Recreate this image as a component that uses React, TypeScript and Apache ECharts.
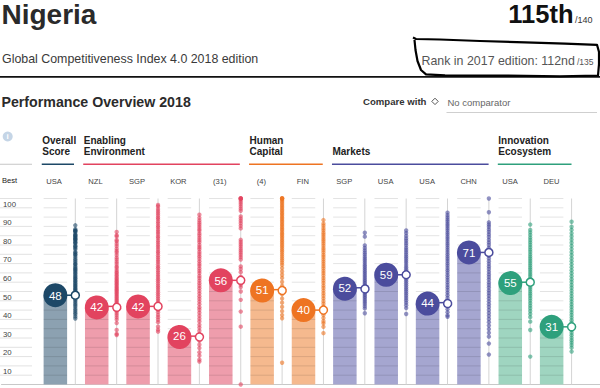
import React, { useEffect, useRef } from "react";
import * as echarts from "echarts";

// ---------------- data ----------------
const pillarNames = [
  "Overall Score", "Institutions", "Infrastructure", "ICT adoption", "Macroeconomic stability",
  "Health", "Skills", "Product market", "Labour market", "Financial system",
  "Market size", "Business dynamism", "Innovation capability",
];
const bestLabels = ["USA", "NZL", "SGP", "KOR", "(31)", "(4)", "FIN", "SGP", "USA", "USA", "CHN", "USA", "DEU"];
const nigeriaScores = [48, 42, 42, 26, 56, 51, 40, 52, 59, 44, 71, 55, 31];
const pillarGroup = [0, 1, 1, 1, 1, 2, 2, 3, 3, 3, 3, 4, 4];
const groupNames = ["Overall\nScore", "Enabling\nEnvironment", "Human\nCapital", "Markets", "Innovation\nEcosystem"];
const groupColors = ["#1d4867", "#e2435f", "#ee7422", "#4b4c9d", "#2ea07c"];
const groupBarColors = ["#8ca1b1", "#ee9dac", "#f5b98e", "#a5a6d0", "#9fd5c0"];
const gridValues = [5, 10, 15, 20, 25, 30, 35, 40, 45, 50, 55, 60, 65, 70, 75, 80, 85, 90, 95, 100];

const distOverall = [85.6, 83.5, 82.8, 82.6, 82.4, 81.7, 80.6, 80.3, 79.9, 79.3, 78.8, 78.2, 78.0, 77.5, 76.6, 76.3, 75.7, 74.5, 74.2, 73.4, 72.6, 71.2, 70.8, 70.0, 69.6, 68.6, 67.5, 66.7, 65.8, 64.9, 64.6, 63.6, 62.8, 62.1, 61.6, 60.9, 60.1, 59.5, 58.6, 58.0, 57.2, 56.8, 55.9, 55.4, 54.6, 54.0, 53.3, 52.8, 52.0, 51.4, 50.9, 50.2, 49.5, 48.7, 47.9, 47.1, 46.2, 45.4, 44.6, 43.6, 42.7, 41.8, 40.6, 39.7, 38.6, 37.8, 36.6, 35.5];
const distInstitutions = [82.0, 80.2, 79.6, 77.7, 76.9, 75.6, 74.4, 73.0, 71.8, 70.9, 69.6, 68.2, 67.1, 65.9, 64.8, 63.5, 62.7, 61.5, 60.6, 59.8, 58.9, 58.1, 57.2, 56.5, 55.7, 55.0, 54.2, 53.6, 52.8, 52.1, 51.4, 50.7, 50.0, 49.3, 48.6, 47.8, 47.1, 46.3, 45.5, 44.8, 44.0, 43.1, 42.5, 41.6, 40.7, 39.5, 38.4, 37.3, 36.1, 34.9, 33.0, 29.3, 27.2, 26.6];
const distInfrastructure = [96.5, 95.7, 94.3, 93.2, 92.1, 91.0, 89.8, 88.9, 87.6, 86.6, 85.3, 84.4, 83.1, 82.0, 80.9, 79.6, 78.7, 77.4, 76.3, 75.1, 74.0, 72.8, 71.5, 70.6, 69.3, 68.2, 67.0, 65.9, 64.7, 63.4, 62.5, 61.2, 60.1, 58.9, 57.8, 56.6, 55.5, 54.3, 53.1, 52.0, 50.8, 49.6, 48.5, 47.3, 46.1, 44.9, 43.8, 42.6, 41.2, 40.1, 38.9, 37.4, 36.2, 34.8, 33.5, 31.1, 29.5, 28.4];
const distICT = [91.3, 89.6, 88.2, 87.0, 85.9, 84.7, 83.5, 82.6, 81.2, 80.1, 78.8, 77.6, 76.5, 75.0, 73.8, 72.7, 71.3, 70.1, 68.9, 67.6, 66.2, 64.9, 63.8, 62.4, 61.1, 59.9, 58.4, 57.2, 55.8, 54.5, 53.1, 51.8, 50.3, 48.9, 47.4, 46.0, 44.6, 43.1, 41.5, 40.2, 38.6, 37.0, 35.4, 33.9, 32.1, 30.6, 28.9, 27.1, 25.2, 23.5, 21.4, 19.6, 17.3, 15.5, 13.4, 12.3];
const distMacro = [100, 100, 100, 100, 99.2, 98.1, 97.0, 95.8, 94.6, 93.4, 90.4, 89.2, 88.0, 86.7, 85.3, 83.9, 77.8, 76.6, 75.4, 74.3, 73.1, 72.0, 70.9, 69.7, 68.5, 67.2, 63.5, 62.1, 60.4, 58.0, 53.6, 52.4, 50.0, 45.5, 39.2, 31.1, 0];
const distHealth = [100, 100, 100, 100, 99.1, 98.3, 97.5, 96.6, 95.8, 95.0, 94.1, 93.3, 92.4, 91.6, 90.8, 89.9, 89.1, 88.2, 87.4, 86.5, 85.7, 84.8, 83.9, 83.1, 82.2, 81.3, 80.5, 79.6, 78.7, 77.8, 76.9, 76.0, 75.0, 74.1, 73.1, 72.1, 71.1, 70.0, 68.9, 67.8, 66.7, 65.5, 64.3, 62.6, 60.8, 59.0, 57.3, 55.1, 53.0, 50.4, 48.5, 46.2, 44.0, 41.7, 39.4, 37.3, 35.6, 11.7];
const distSkills = [88.4, 86.5, 85.4, 84.0, 82.9, 81.6, 80.5, 79.3, 78.1, 77.0, 75.8, 74.6, 73.3, 72.2, 71.0, 69.7, 68.6, 67.3, 66.1, 64.9, 63.6, 62.4, 61.1, 59.9, 58.6, 57.2, 55.9, 54.6, 53.2, 51.9, 50.5, 49.1, 47.7, 46.3, 44.8, 43.4, 41.9, 40.4, 38.9, 37.3, 35.7, 34.0, 32.9, 31.0, 27.6];
const distProduct = [81.6, 79.5, 74.8, 73.4, 72.1, 70.9, 69.8, 68.6, 67.5, 66.5, 65.4, 64.3, 63.3, 62.3, 61.3, 60.3, 59.3, 58.3, 57.3, 56.3, 55.4, 54.5, 53.6, 52.7, 51.8, 50.9, 50.0, 49.1, 48.2, 47.3, 46.4, 45.4, 44.4, 43.3, 42.1, 40.9, 38.3];
const distLabour = [82.8, 81.4, 79.9, 78.5, 77.3, 76.0, 74.8, 73.5, 72.3, 71.1, 69.9, 68.7, 67.6, 66.5, 65.4, 64.2, 63.1, 62.0, 60.9, 59.8, 58.7, 57.7, 56.6, 55.5, 54.4, 53.3, 52.2, 51.1, 50.0, 48.9, 47.7, 46.5, 45.3, 44.0, 42.6, 41.1, 37.9];
const distFinancial = [92.4, 91.0, 89.8, 88.6, 87.5, 86.3, 85.2, 84.0, 82.9, 81.7, 80.6, 79.4, 78.3, 77.1, 75.9, 74.8, 73.6, 72.4, 71.2, 70.0, 68.8, 67.6, 66.4, 65.1, 63.9, 62.6, 61.4, 60.1, 58.8, 57.5, 56.2, 54.9, 53.5, 52.2, 50.8, 49.4, 48.0, 46.5, 45.0, 43.5, 42.0, 40.4, 38.8, 37.2, 36.4];
const distMarketSize = [100, 92.6, 87.2, 86.0, 84.8, 83.4, 82.1, 80.7, 79.3, 77.8, 76.4, 75.0, 73.5, 72.1, 70.6, 69.2, 67.8, 66.3, 64.9, 63.5, 62.1, 60.6, 59.2, 57.8, 56.4, 54.9, 53.5, 52.1, 50.6, 49.2, 47.7, 46.2, 44.7, 43.2, 41.7, 40.1, 38.5, 36.9, 35.2, 33.5, 31.7, 29.8, 27.8, 25.7, 22.0, 16.1];
const distBusiness = [86.0, 83.1, 81.8, 80.4, 79.0, 77.7, 76.4, 75.1, 73.8, 72.5, 71.3, 70.0, 68.8, 67.6, 66.4, 65.2, 64.0, 62.8, 61.7, 60.5, 59.3, 58.2, 57.0, 55.9, 54.7, 53.6, 52.4, 51.3, 50.1, 48.9, 47.7, 46.4, 45.1, 43.8, 42.4, 41.0, 39.5, 37.9, 36.2, 33.8, 29.3, 15.0];
const distInnovation = [87.5, 84.8, 83.1, 81.3, 79.6, 77.9, 76.2, 74.5, 72.8, 71.1, 69.5, 67.8, 66.2, 64.6, 63.0, 61.4, 59.8, 58.2, 56.6, 55.1, 53.5, 52.0, 50.5, 49.0, 47.5, 46.0, 44.6, 43.1, 41.7, 40.2, 38.8, 37.4, 36.0, 34.6, 33.2, 31.9, 30.5, 29.2, 27.8, 26.5, 25.1, 23.8, 22.5, 21.2, 19.8, 17.7];
const distributions = [
  distOverall, distInstitutions, distInfrastructure, distICT, distMacro, distHealth, distSkills,
  distProduct, distLabour, distFinancial, distMarketSize, distBusiness, distInnovation,
];

// ---------------- layout ----------------
const W = 600;
const FONT = "'Liberation Sans', Arial, Helvetica, sans-serif";
const COL0 = 54;
const STEP = 41.46;
const BAR_HALF = 11.75;
const STRIP_OFF = 20;
const GRID_TOP = 198.5;
const GRID_H = 186;
const X_MIN = -COL0 / STEP;
const X_MAX = (W - COL0) / STEP;
const STRIP_DX = STRIP_OFF / STEP;
const colX = (i: number) => COL0 + STEP * i;

function buildGraphics() {
  const g: any[] = [];
  const txt = (text: string, x: number, y: number, o: any = {}) =>
    g.push({
      type: "text", x, y, silent: true,
      style: { text, fontFamily: FONT, fontSize: 12, fill: "#333", verticalAlign: "middle", align: "left", ...o },
    });
  const line = (x1: number, y1: number, x2: number, y2: number, stroke: string, lineWidth = 1) =>
    g.push({ type: "line", silent: true, shape: { x1, y1, x2, y2 }, style: { stroke, lineWidth } });

  // title block
  txt("Nigeria", 1.5, 14.5, { fontSize: 28, fontWeight: "bold", fill: "#2a2a2a" });
  txt("115th", 573.5, 14, { fontSize: 25.5, fontWeight: "bold", fill: "#111", align: "right" });
  txt("/140", 575, 19.6, { fontSize: 9, fill: "#333" });
  txt("Global Competitiveness Index 4.0 2018 edition", 2, 58.5, { fontSize: 12.4, fill: "#3a3a3a" });
  txt("Rank in 2017 edition: 112nd", 421.5, 60.8, { fontSize: 12.4, fill: "#555" });
  txt("/135", 577, 62, { fontSize: 8.5, fill: "#555" });
  line(0, 76.8, W, 76.8, "#111", 1.8);
  g.push({
    type: "polyline", silent: true,
    shape: {
      points: [
        [413, 37.5], [416, 39], [440, 39.5], [480, 41], [525, 42.3], [565, 43.6], [597, 44.8],
        [599, 52], [599, 64], [598, 75.5], [560, 76.3], [500, 75.6], [445, 75.4], [426, 74.3],
        [421, 70], [417.5, 61], [415.5, 50], [414.5, 40],
      ],
    },
    style: { stroke: "#000", lineWidth: 2.2, fill: null, lineJoin: "round" },
  });

  // section header
  txt("Performance Overview 2018", 1.5, 101.5, { fontSize: 14.2, fontWeight: "bold", fill: "#2b2b2b" });
  txt("Compare with", 363, 101.5, { fontSize: 9.6, fontWeight: "bold", fill: "#333" });
  g.push({
    type: "polygon", silent: true,
    shape: { points: [[435, 98.2], [438.2, 101.4], [435, 104.6], [431.8, 101.4]] },
    style: { fill: "#fff", stroke: "#555", lineWidth: 1 },
  });
  txt("No comparator", 447.5, 102.5, { fontSize: 9.5, fill: "#666" });
  line(446.5, 112.5, 597, 112.5, "#cfcfcf", 1);

  // info icon
  g.push({ type: "circle", silent: true, shape: { cx: 7.7, cy: 136.5, r: 5 }, style: { fill: "#c5d5e6" } });
  txt("i", 7.7, 136.7, { fontSize: 8, fontWeight: "bold", fill: "#fff", align: "center" });
  line(0, 164.3, 32, 164.3, "#d0d0d0", 1.2);
  txt("Best", 2, 180.7, { fontSize: 7.6, fill: "#222" });

  // group headers + underlines
  groupNames.forEach((name, gi) => {
    const cols = pillarGroup.map((p, i) => (p === gi ? i : -1)).filter((i) => i >= 0);
    const first = cols[0];
    const last = cols[cols.length - 1];
    const x0 = colX(first) - BAR_HALF - 0.5;
    const x1 = colX(last) + STRIP_OFF;
    txt(name, x0 + 0.5, 156.5, {
      fontSize: 10, fontWeight: "bold", fill: "#222", verticalAlign: "bottom", lineHeight: 11,
    });
    line(x0, 164.3, x1, 164.3, groupColors[gi], 1.4);
  });

  // best-performer labels
  bestLabels.forEach((lab, i) => {
    txt(lab, colX(i), 181, { fontSize: 7.6, fill: "#444", align: "center" });
  });
  return g;
}

function buildOption(): any {
  const gridData: number[][] = [];
  pillarNames.forEach((_, i) => gridValues.forEach((v) => gridData.push([i, v])));

  const dotData: any[] = [];
  distributions.forEach((arr, i) =>
    arr.forEach((v) =>
      dotData.push({ value: [i + STRIP_DX, v], itemStyle: { color: groupColors[pillarGroup[i]] } })
    )
  );

  return {
    animation: false,
    backgroundColor: "#fff",
    grid: { left: 0, right: 0, top: GRID_TOP, height: GRID_H, containLabel: false },
    xAxis: {
      type: "value", min: X_MIN, max: X_MAX,
      axisLine: { show: true, lineStyle: { color: "#c8c8c8", width: 1 } },
      axisTick: { show: false }, axisLabel: { show: false }, splitLine: { show: false },
    },
    yAxis: {
      type: "value", min: 0, max: 100, interval: 10,
      axisLine: { show: false }, axisTick: { show: false }, splitLine: { show: false },
      axisLabel: {
        inside: true, align: "left", verticalAlign: "top", margin: 1.5, padding: [1.5, 0, 0, 0],
        fontSize: 7.8, color: "#444", fontFamily: FONT, showMinLabel: false,
      },
    },
    graphic: buildGraphics(),
    series: [
      {
        type: "custom", name: "leftGrid", z: 1, silent: true,
        data: gridValues.map((v) => [0, v]),
        renderItem: (_p: any, api: any) => {
          const y = api.coord([0, api.value(1)])[1];
          return { type: "line", shape: { x1: 0, y1: y, x2: 32, y2: y }, style: { stroke: "#e2e2e2", lineWidth: 1 } };
        },
      },
      {
        type: "custom", name: "bars", z: 2, silent: true,
        data: nigeriaScores.map((v, i) => [i, v]),
        renderItem: (_p: any, api: any) => {
          const i = api.value(0);
          const p0 = api.coord([i, 0]);
          const p1 = api.coord([i, api.value(1)]);
          return {
            type: "rect",
            shape: { x: p0[0] - BAR_HALF, y: p1[1], width: BAR_HALF * 2, height: p0[1] - p1[1] },
            style: { fill: groupBarColors[pillarGroup[i]] },
          };
        },
      },
      {
        type: "custom", name: "gridSegments", z: 3, silent: true,
        data: gridData,
        renderItem: (_p: any, api: any) => {
          const p = api.coord([api.value(0), api.value(1)]);
          return {
            type: "line",
            shape: { x1: p[0] - BAR_HALF, y1: p[1], x2: p[0] + BAR_HALF, y2: p[1] },
            style: { stroke: "rgba(0,0,0,0.11)", lineWidth: 1 },
          };
        },
      },
      {
        type: "custom", name: "strips", z: 3, silent: true,
        data: pillarNames.map((_, i) => [i + STRIP_DX, 0]),
        renderItem: (_p: any, api: any) => {
          const x = api.value(0);
          const a = api.coord([x, 0]);
          const b = api.coord([x, 100]);
          return { type: "line", shape: { x1: a[0], y1: a[1], x2: b[0], y2: b[1] }, style: { stroke: "#d4d4d4", lineWidth: 1 } };
        },
      },
      {
        type: "scatter", name: "countries", z: 4, silent: true,
        symbol: "circle", symbolSize: 4.4,
        itemStyle: { opacity: 0.6 },
        data: dotData,
      },
      {
        type: "custom", name: "Nigeria", z: 5, silent: true,
        data: nigeriaScores.map((v, i) => [i, v]),
        renderItem: (_p: any, api: any) => {
          const i = api.value(0);
          const v = api.value(1);
          const c = groupColors[pillarGroup[i]];
          const p = api.coord([i, v]);
          const q = api.coord([i + STRIP_DX, v]);
          return {
            type: "group",
            children: [
              { type: "line", shape: { x1: p[0], y1: p[1], x2: q[0], y2: q[1] }, style: { stroke: c, lineWidth: 1.5 } },
              { type: "circle", shape: { cx: p[0], cy: p[1], r: 12 }, style: { fill: c } },
              {
                type: "text",
                style: {
                  text: String(v), x: p[0], y: p[1] + 0.3, align: "center", verticalAlign: "middle",
                  fill: "#fff", fontSize: 11.5, fontFamily: FONT,
                },
              },
              { type: "circle", shape: { cx: q[0], cy: q[1], r: 4 }, style: { fill: "#fff", stroke: c, lineWidth: 1.5 } },
            ],
          };
        },
      },
    ],
  };
}

export default function App() {
  const ref = useRef<HTMLDivElement>(null);
  useEffect(() => {
    const chart = echarts.init(ref.current!, null, { renderer: "svg" });
    chart.setOption(buildOption());
    return () => chart.dispose();
  }, []);
  return (
    <div
      ref={ref}
      style={{ position: "absolute", left: 0, top: 0, width: 600, height: 388, background: "#fff" }}
    />
  );
}
